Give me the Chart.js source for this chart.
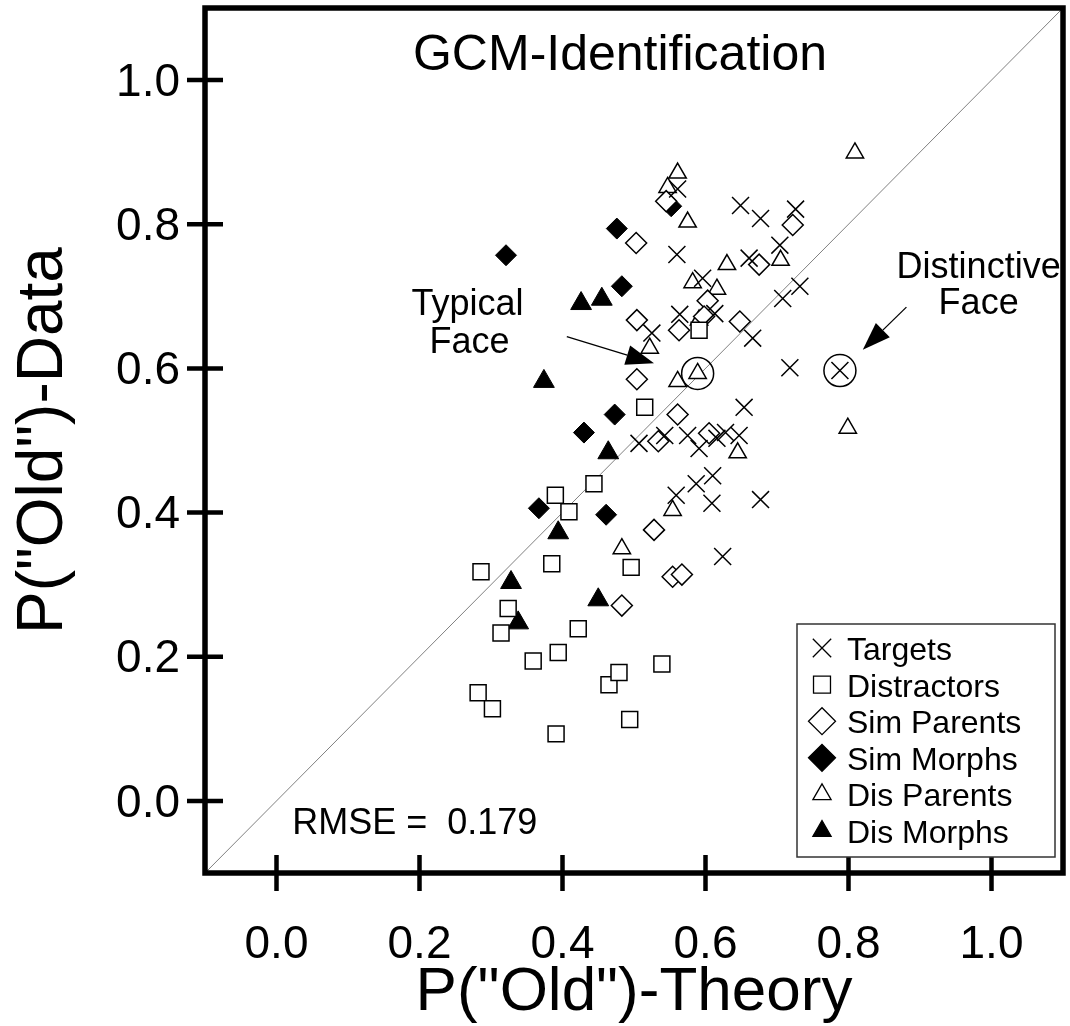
<!DOCTYPE html>
<html>
<head>
<meta charset="utf-8">
<script src="https://cdn.jsdelivr.net/npm/chart.js@4.4.1/dist/chart.umd.min.js"></script>
<style>
  html, body { margin: 0; padding: 0; background: #fff; }
  #wrap { width: 1070px; height: 1026px; }
</style>
</head>
<body>
<div id="wrap"><canvas id="gcmChart" width="1070" height="1026"></canvas></div>
<script>
// P("Old") predicted by GCM (x) against observed P("Old") (y), per item type
var targetsX = [0.561, 0.649, 0.677, 0.726, 0.560, 0.661, 0.704, 0.732, 0.708, 0.596, 0.613, 0.564, 0.525, 0.666, 0.718,
                0.788, 0.654, 0.507, 0.543, 0.575, 0.591, 0.616, 0.628, 0.647, 0.610, 0.587, 0.559, 0.609, 0.677, 0.624];
var targetsY = [0.849, 0.826, 0.808, 0.821, 0.758, 0.753, 0.771, 0.714, 0.697, 0.725, 0.676, 0.675, 0.649, 0.642, 0.601,
                0.597, 0.546, 0.496, 0.507, 0.507, 0.489, 0.503, 0.511, 0.507, 0.451, 0.440, 0.424, 0.413, 0.418, 0.339];

var distractorsX = [0.591, 0.515, 0.444, 0.390, 0.409, 0.385, 0.496, 0.286, 0.324, 0.314,
                    0.422, 0.394, 0.359, 0.282, 0.302, 0.391, 0.539, 0.465, 0.479, 0.494];
var distractorsY = [0.653, 0.546, 0.440, 0.424, 0.401, 0.329, 0.324, 0.318, 0.267, 0.233,
                    0.239, 0.206, 0.194, 0.150, 0.128, 0.093, 0.190, 0.161, 0.178, 0.113];

var simParentsX = [0.545, 0.503, 0.504, 0.722, 0.675, 0.603, 0.598, 0.563, 0.648, 0.504, 0.561, 0.534, 0.605, 0.528, 0.554, 0.567, 0.483];
var simParentsY = [0.832, 0.774, 0.667, 0.799, 0.744, 0.694, 0.672, 0.653, 0.665, 0.585, 0.536, 0.499, 0.510, 0.376, 0.311, 0.314, 0.271];

var simMorphsX = [0.476, 0.321, 0.483, 0.552, 0.473, 0.430, 0.367, 0.461];
var simMorphsY = [0.794, 0.757, 0.714, 0.825, 0.536, 0.511, 0.406, 0.397];

var disParentsX = [0.809, 0.561, 0.547, 0.575, 0.630, 0.705, 0.582, 0.616, 0.591, 0.522, 0.589, 0.561, 0.799, 0.645, 0.554, 0.483];
var disParentsY = [0.899, 0.871, 0.851, 0.803, 0.744, 0.750, 0.719, 0.710, 0.667, 0.628, 0.593, 0.582, 0.517, 0.483, 0.403, 0.350];

var disMorphsX = [0.426, 0.455, 0.374, 0.464, 0.394, 0.328, 0.450, 0.338];
var disMorphsY = [0.690, 0.696, 0.582, 0.483, 0.372, 0.303, 0.279, 0.247];

// typical face (a dis parent) and distinctive face (a target)
var circledX = [0.589, 0.788];
var circledY = [0.593, 0.597];

var axisTicks = [0.0, 0.2, 0.4, 0.6, 0.8, 1.0];
var axisRange = [-0.1, 1.1];
var rmse = 0.179;

var FONT = '"Liberation Sans", Arial, Helvetica, sans-serif';

function pts(xs, ys) {
    return xs.map(function(x, i) { return { x: x, y: ys[i] }; });
}

function fixTicks(scale) {
    scale.ticks = axisTicks.map(function(v) { return { value: v }; });
}

// keep each axis box a fixed size
function pinBox(size) {
    return function(s) {
        if (s.isHorizontal()) s.height = size; else s.width = size;
    };
}

// frame around the plot, ticks crossing it and the tick labels
var framePlugin = {
    id: 'frame',
    afterDatasetsDraw: function(chart) {
        var ctx = chart.ctx, a = chart.chartArea;
        var xs = chart.scales.x, ys = chart.scales.y;
        ctx.save();
        ctx.strokeStyle = '#000';
        ctx.lineWidth = 5.5;
        ctx.lineCap = 'square';
        ctx.strokeRect(a.left, a.top, a.right - a.left, a.bottom - a.top);
        ctx.lineWidth = 4.5;
        ctx.lineCap = 'butt';
        ctx.beginPath();
        axisTicks.forEach(function(v) {
            var px = xs.getPixelForValue(v);
            ctx.moveTo(px, a.bottom - 18);
            ctx.lineTo(px, a.bottom + 18);
            var py = ys.getPixelForValue(v);
            ctx.moveTo(a.left - 18, py);
            ctx.lineTo(a.left + 18, py);
        });
        ctx.stroke();

        ctx.fillStyle = '#000';
        ctx.font = '46px ' + FONT;
        ctx.textBaseline = 'middle';
        axisTicks.forEach(function(v) {
            ctx.textAlign = 'center';
            ctx.fillText(v.toFixed(1), xs.getPixelForValue(v), a.bottom + 72);
            ctx.textAlign = 'right';
            ctx.fillText(v.toFixed(1), a.left - 25, ys.getPixelForValue(v) + 3);
        });
        ctx.restore();
    }
};

function arrow(ctx, x0, y0, x1, y1) {
    var ang = Math.atan2(y1 - y0, x1 - x0);
    var len = 28, half = 10;
    var bx = x1 - Math.cos(ang) * len, by = y1 - Math.sin(ang) * len;
    ctx.beginPath();
    ctx.moveTo(x0, y0);
    ctx.lineTo(bx, by);
    ctx.stroke();
    ctx.beginPath();
    ctx.moveTo(x1, y1);
    ctx.lineTo(bx + Math.sin(ang) * half, by - Math.cos(ang) * half);
    ctx.lineTo(bx - Math.sin(ang) * half, by + Math.cos(ang) * half);
    ctx.closePath();
    ctx.fill();
}

// title, RMSE note and the two face call-outs
var notesPlugin = {
    id: 'notes',
    afterDatasetsDraw: function(chart) {
        var ctx = chart.ctx, a = chart.chartArea;
        var xs = chart.scales.x, ys = chart.scales.y;
        var X = function(v) { return xs.getPixelForValue(v); };
        var Y = function(v) { return ys.getPixelForValue(v); };
        ctx.save();
        ctx.fillStyle = '#000';
        ctx.strokeStyle = '#000';
        ctx.textBaseline = 'alphabetic';

        ctx.font = '50px ' + FONT;
        ctx.textAlign = 'center';
        ctx.fillText('GCM-Identification', a.left + 415, a.top + 62);

        ctx.font = '36px ' + FONT;
        ctx.textAlign = 'left';
        ctx.fillText('RMSE =  ' + rmse.toFixed(3), X(0.022), Y(-0.046));

        ctx.textAlign = 'center';
        ctx.fillText('Typical', X(0.267), Y(0.674));
        ctx.fillText('Face', X(0.270), Y(0.621));
        ctx.fillText('Distinctive', X(0.982), Y(0.726));
        ctx.fillText('Face', X(0.982), Y(0.676));

        ctx.lineWidth = 1.3;
        arrow(ctx, X(0.406), Y(0.644), X(0.528), Y(0.607));
        arrow(ctx, X(0.881), Y(0.685), X(0.820), Y(0.626));
        ctx.restore();
    }
};

// boxed legend in the lower right corner of the plot
var legendPlugin = {
    id: 'boxLegend',
    afterDatasetsDraw: function(chart) {
        var ctx = chart.ctx, a = chart.chartArea;
        var left = a.right - 266, top = a.bottom - 249, w = 258, h = 233;
        ctx.save();
        ctx.fillStyle = '#fff';
        ctx.fillRect(left, top, w, h);
        ctx.strokeStyle = '#333';
        ctx.lineWidth = 1.5;
        ctx.strokeRect(left, top, w, h);
        ctx.font = '32px ' + FONT;
        ctx.textAlign = 'left';
        ctx.textBaseline = 'alphabetic';
        var sizes = [13, 12, 13.5, 13.5, 10.5, 10.5];
        for (var i = 0; i < 6; i++) {
            var ds = chart.data.datasets[i];
            var base = top + 36 + i * 36.6;
            ctx.fillStyle = ds.backgroundColor;
            ctx.strokeStyle = '#000';
            ctx.lineWidth = 1.3;
            Chart.helpers.drawPoint(ctx, {
                pointStyle: ds.pointStyle, radius: sizes[i], rotation: 0, borderWidth: 1.3
            }, left + 25, base - 12);
            ctx.fillStyle = '#000';
            ctx.fillText(ds.label, left + 50, base);
        }
        ctx.restore();
    }
};

window.onload = function() {
    var ctx = document.getElementById('gcmChart').getContext('2d');
    var gcmChart = new Chart(ctx, {
        type: 'scatter',
        data: {
            datasets: [{
                label: 'Targets',
                data: pts(targetsX, targetsY),
                pointStyle: 'crossRot',
                pointRadius: 12,
                borderColor: '#000',
                backgroundColor: '#fff',
                borderWidth: 1.5
            }, {
                label: 'Distractors',
                data: pts(distractorsX, distractorsY),
                pointStyle: 'rect',
                pointRadius: 11.3,
                borderColor: '#000',
                backgroundColor: '#fff',
                borderWidth: 1.5
            }, {
                label: 'Sim Parents',
                data: pts(simParentsX, simParentsY),
                pointStyle: 'rectRot',
                pointRadius: 10.5,
                borderColor: '#000',
                backgroundColor: '#fff',
                borderWidth: 1.5
            }, {
                label: 'Sim Morphs',
                data: pts(simMorphsX, simMorphsY),
                pointStyle: 'rectRot',
                pointRadius: 10.5,
                borderColor: '#000',
                backgroundColor: '#000',
                borderWidth: 1
            }, {
                label: 'Dis Parents',
                data: pts(disParentsX, disParentsY),
                pointStyle: 'triangle',
                pointRadius: 10,
                borderColor: '#000',
                backgroundColor: '#fff',
                borderWidth: 1.5
            }, {
                label: 'Dis Morphs',
                data: pts(disMorphsX, disMorphsY),
                pointStyle: 'triangle',
                pointRadius: 12,
                borderColor: '#000',
                backgroundColor: '#000',
                borderWidth: 1
            }, {
                label: 'circled',
                data: pts(circledX, circledY),
                pointStyle: 'circle',
                pointRadius: 16,
                borderColor: '#000',
                backgroundColor: 'rgba(0,0,0,0)',
                borderWidth: 1.5
            }, {
                label: 'identity',
                data: pts(axisRange, axisRange),
                showLine: true,
                pointRadius: 0,
                borderColor: '#808080',
                borderWidth: 1
            }]
        },
        options: {
            responsive: false,
            animation: false,
            events: [],
            layout: { autoPadding: false, padding: { top: 8, right: 7, left: 0, bottom: 0 } },
            plugins: {
                legend: { display: false },
                tooltip: { enabled: false }
            },
            scales: {
                x: {
                    type: 'linear',
                    min: axisRange[0],
                    max: axisRange[1],
                    grid: { display: false },
                    border: { display: false },
                    afterBuildTicks: fixTicks,
                    afterFit: pinBox(153),
                    ticks: { display: false },
                    title: {
                        display: true,
                        text: 'P("Old")-Theory',
                        color: '#000',
                        font: { family: FONT, size: 62 },
                        padding: { top: 0, bottom: -4 }
                    }
                },
                y: {
                    type: 'linear',
                    min: axisRange[0],
                    max: axisRange[1],
                    grid: { display: false },
                    border: { display: false },
                    afterBuildTicks: fixTicks,
                    afterFit: pinBox(205),
                    ticks: { display: false },
                    title: {
                        display: true,
                        text: 'P("Old")-Data',
                        color: '#000',
                        font: { family: FONT, size: 64 },
                        padding: { top: 6, bottom: 0 }
                    }
                }
            }
        },
        plugins: [framePlugin, notesPlugin, legendPlugin]
    });
};
</script>
</body>
</html>
